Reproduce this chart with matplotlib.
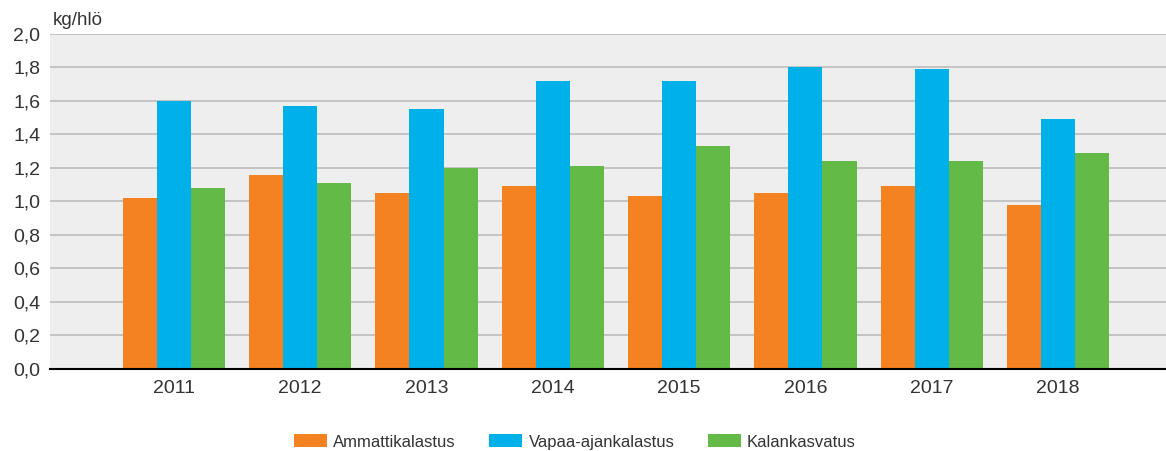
import matplotlib
matplotlib.use("Agg")
import matplotlib.pyplot as plt
import numpy as np

plt.rcParams["font.family"] = ["Liberation Sans", "DejaVu Sans"]

years = ["2011", "2012", "2013", "2014", "2015", "2016", "2017", "2018"]
ammatti = [1.02, 1.16, 1.05, 1.09, 1.03, 1.05, 1.09, 0.98]
vapaa = [1.60, 1.57, 1.55, 1.72, 1.72, 1.80, 1.79, 1.49]
kasvatus = [1.08, 1.11, 1.20, 1.21, 1.33, 1.24, 1.24, 1.29]

series = [
    ("Ammattikalastus", ammatti, "#F58220"),
    ("Vapaa-ajankalastus", vapaa, "#00B0E9"),
    ("Kalankasvatus", kasvatus, "#63BA47"),
]

fig = plt.figure(figsize=(11.66, 4.51), dpi=100)
ax = fig.add_axes([0.043, 0.182, 0.957, 0.743])
ax.set_facecolor("#EEEEEE")

x = np.arange(len(years))
w = 0.27
for i, (name, vals, col) in enumerate(series):
    ax.bar(x + (i - 1) * w, vals, width=w, color=col, label=name, zorder=3)

ax.set_ylim(0, 2.0)
ax.set_xlim(-0.98, 7.855)
ticks = np.arange(0, 2.01, 0.2)
ax.set_yticks(ticks)
ax.set_yticklabels([f"{v:.1f}".replace(".", ",") for v in ticks])
ax.set_xticks(x)
ax.set_xticklabels(years)
ax.tick_params(axis="both", length=0, labelsize=14, colors="#333333")
ax.tick_params(axis="y", pad=7)
ax.tick_params(axis="x", pad=8)

ax.grid(axis="y", color="#B8B8B8", linewidth=1.1, zorder=1)
for s in ["top", "right", "left"]:
    ax.spines[s].set_visible(False)
ax.spines["bottom"].set_color("black")
ax.spines["bottom"].set_linewidth(1.5)
ax.spines["bottom"].set_zorder(4)

fig.text(0.045, 0.955, "kg/hlö", fontsize=13.5, color="#333333", ha="left", va="center")

fig.legend(loc="center", bbox_to_anchor=(0.493, 0.02), ncol=3, frameon=False,
           fontsize=12, handlelength=2.0, handleheight=0.8, columnspacing=2.0,
           handletextpad=0.36, labelcolor="#333333")

fig.savefig("out.png", dpi=100)
